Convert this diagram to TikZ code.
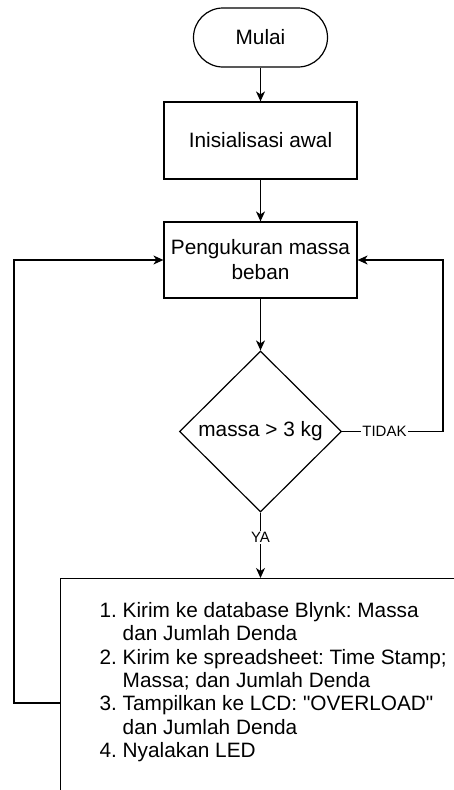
\documentclass[tikz,border=0pt]{standalone}
\usepackage{fontspec}
\setmainfont{Liberation Sans}
\usetikzlibrary{shapes.geometric,arrows.meta}
\frenchspacing

\begin{document}
\begin{tikzpicture}[x=1pt,y=-1pt]
            \useasboundingbox (0,0) rectangle (454,790);
            \clip (0,0) rectangle (454,790);
            \tikzset{Kotak/.style={draw,line width=1.2pt,minimum width=193pt,minimum height=77pt,align=center,font=\fontsize{20.8}{25}\selectfont}};
            \tikzset{Garis/.style={line width=1.2pt,-{Stealth[length=10pt,width=9pt,inset=3pt]}}};
            \tikzset{Label/.style={fill=white,inner sep=1pt,font=\fontsize{15}{18}\selectfont}};

            \node[Kotak,rounded corners=29.5pt,minimum width=134pt,minimum height=59pt] (mulai) at (260.5,37.5){Mulai};
            \node[Kotak] (init) at (260.5,140.5){Inisialisasi awal};
            \node[Kotak,minimum height=76pt] (ukur) at (260.5,260){Pengukuran massa\\beban};
            \node[Kotak,diamond,minimum width=162pt,minimum height=161pt,inner sep=0pt] (cek) at (260.5,431.5){massa > 3 kg};
            \node[draw,line width=1.2pt,anchor=north west,inner xsep=39pt,inner ysep=22.7pt,font=\fontsize{20.8}{23.3}\selectfont] (aksi) at (60,578){%
              \begin{tabular}{@{}r@{\ }l@{}}
                1.&Kirim ke database Blynk: Massa\\
                  &dan Jumlah Denda\\
                2.&Kirim ke spreadsheet: Time Stamp;\\
                  &Massa; dan Jumlah Denda\\
                3.&Tampilkan ke LCD: \textquotedbl OVERLOAD\textquotedbl\\
                  &dan Jumlah Denda\\
                4.&Nyalakan LED\rule[-30pt]{0pt}{30pt}
              \end{tabular}};

            \coordinate (kanan) at (443,431.5);
            \coordinate (kiri) at (14,703);

            \draw[Garis] (mulai) -- (init);
            \draw[Garis] (init) -- (ukur);
            \draw[Garis] (ukur) -- (cek);
            \draw[Garis] (cek) -- node[Label,pos=0.42]{TIDAK} (kanan) |- (ukur);
            \draw[Garis] (cek) -- node[Label,pos=0.38]{YA} (aksi.north -| cek);
            \draw[Garis] (aksi.west |- kiri) -- (kiri) |- (ukur);
\end{tikzpicture}
\end{document}
